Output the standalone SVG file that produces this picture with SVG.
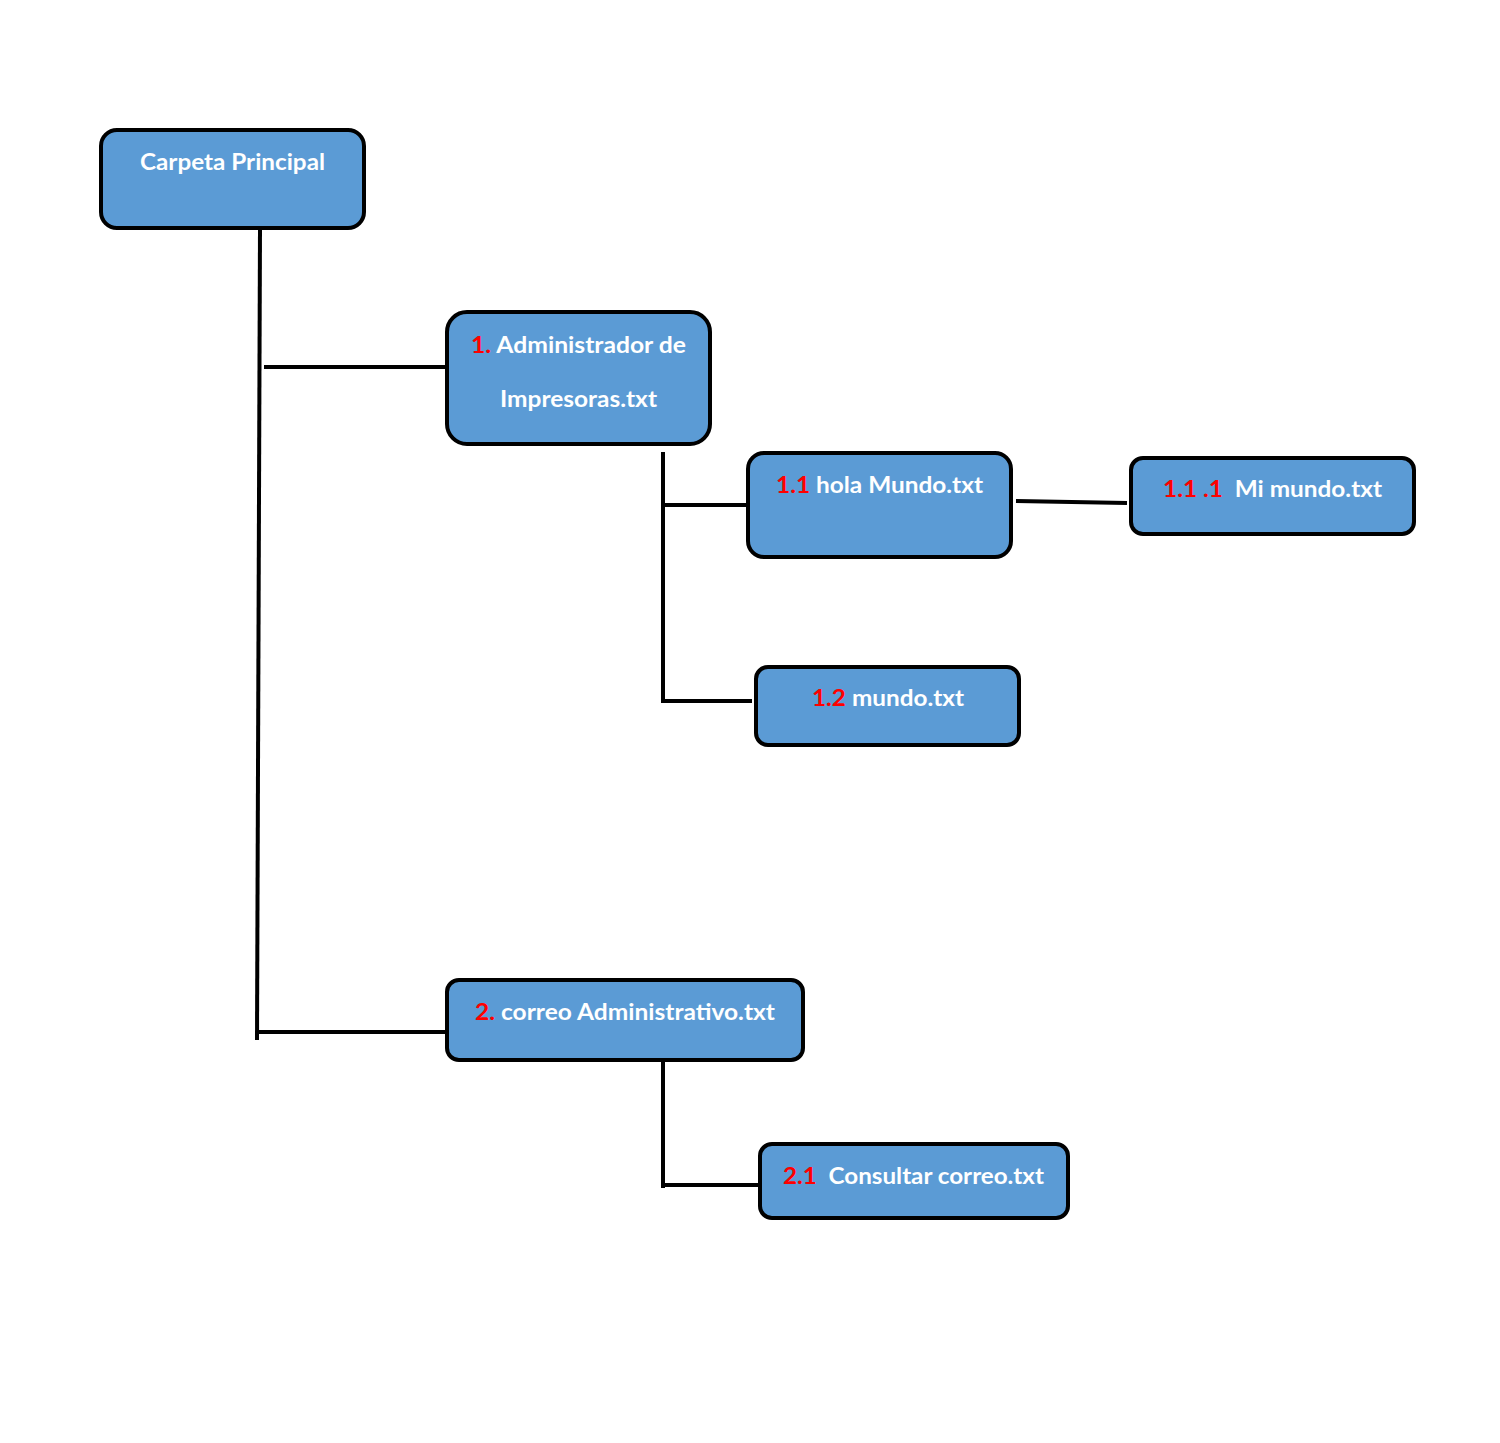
<svg xmlns="http://www.w3.org/2000/svg" width="1500" height="1443" viewBox="0 0 1500 1443">
<style>
.box{fill:#5b9bd5;stroke:#000;stroke-width:4}
.t{font-family:Lato,"Open Sans","Liberation Sans",sans-serif;font-weight:bold;font-size:23px;fill:#fff}
.r{fill:#ff0000}
.ln{stroke:#000;stroke-width:4;fill:none}
</style>
<rect width="1500" height="1443" fill="#fff"/>
<g id="connectors">
<path class="ln" d="M260 228 L257 1040"/>
<path class="ln" d="M264 367 H447"/>
<path class="ln" d="M257 1032 H447"/>
<path class="ln" d="M663 452 V703"/>
<path class="ln" d="M663 505 H748"/>
<path class="ln" d="M663 701 H752"/>
<path class="ln" d="M1016 501 L1127 503"/>
<path class="ln" d="M663 1060 V1188"/>
<path class="ln" d="M663 1185 H760"/>
</g>
<g id="n0">
<rect class="box" x="101" y="130" width="263" height="98" rx="16"/>
<text class="t" x="140" y="170" textLength="185" lengthAdjust="spacingAndGlyphs">Carpeta Principal</text>
</g>
<g id="n1">
<rect class="box" x="447" y="312" width="263" height="132" rx="20"/>
<text class="t" x="471" y="353" textLength="215" lengthAdjust="spacingAndGlyphs"><tspan class="r">1.</tspan> Administrador de</text>
<text class="t" x="500" y="407" textLength="157" lengthAdjust="spacingAndGlyphs">Impresoras.txt</text>
</g>
<g id="n11">
<rect class="box" x="748" y="453" width="263" height="104" rx="16"/>
<text class="t" x="776" y="493" textLength="207" lengthAdjust="spacingAndGlyphs"><tspan class="r">1.1</tspan> hola Mundo.txt</text>
</g>
<g id="n111">
<rect class="box" x="1131" y="458" width="283" height="76" rx="12"/>
<text class="t" x="1163" y="497" textLength="219" lengthAdjust="spacingAndGlyphs" xml:space="preserve"><tspan class="r">1.1 .1</tspan>  Mi mundo.txt</text>
</g>
<g id="n12">
<rect class="box" x="756" y="667" width="263" height="78" rx="12"/>
<text class="t" x="812" y="706" textLength="152" lengthAdjust="spacingAndGlyphs"><tspan class="r">1.2</tspan> mundo.txt</text>
</g>
<g id="n2">
<rect class="box" x="447" y="980" width="356" height="80" rx="12"/>
<text class="t" x="475" y="1020" textLength="300" lengthAdjust="spacingAndGlyphs"><tspan class="r">2.</tspan> correo Administrativo.txt</text>
</g>
<g id="n21">
<rect class="box" x="760" y="1144" width="308" height="74" rx="12"/>
<text class="t" x="783" y="1184" textLength="261" lengthAdjust="spacingAndGlyphs" xml:space="preserve"><tspan class="r">2.1</tspan>  Consultar correo.txt</text>
</g>
</svg>
